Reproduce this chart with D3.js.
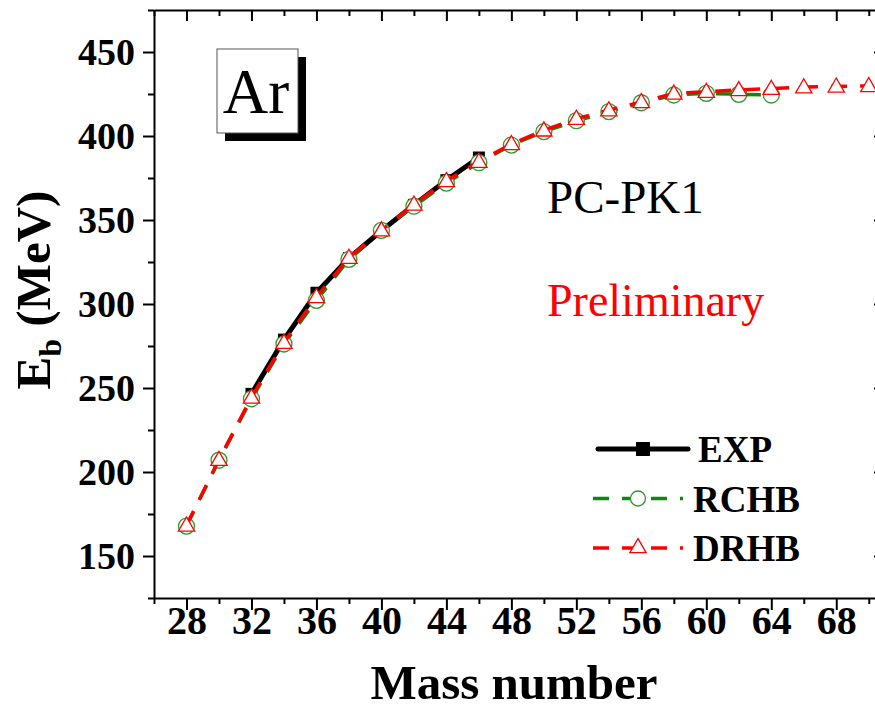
<!DOCTYPE html>
<html>
<head>
<meta charset="utf-8">
<script src="https://cdn.jsdelivr.net/npm/d3@7/dist/d3.min.js"></script>
<style>
	body { margin:0; background:#fff; }
	#graph { width:875px; height:711px; }
	text { font-family:"Liberation Serif","Times New Roman",serif; }
</style>
</head>
<body>
<div id="graph"></div>
<script>
// values
var massExp = [32, 34, 36, 38, 40, 42, 44, 46]
var ebExp = [246.5, 278.8, 306.7, 327.3, 343.6, 359.0, 373.7, 387.2]

var massRchb = [28, 30, 32, 34, 36, 38, 40, 42, 44, 46, 48, 50, 52, 54, 56, 58, 60, 62, 64]
var ebRchb = [167.8, 207.0, 243.6, 276.2, 302.2, 326.6, 343.8, 358.2, 372.0, 384.1, 394.6, 402.6, 409.1, 414.5, 419.8, 424.4, 425.4, 424.8, 424.4]

var massDrhb = [28, 30, 32, 34, 36, 38, 40, 42, 44, 46, 48, 50, 52, 54, 56, 58, 60, 62, 64, 66, 68, 70]
var ebDrhb = [168.2, 207.3, 244.4, 277.0, 304.2, 327.6, 343.9, 359.3, 373.3, 384.7, 395.3, 403.4, 410.3, 415.4, 420.3, 425.3, 426.4, 427.4, 428.2, 429.1, 429.5, 429.8]

var xTicks = d3.range(26, 72, 2)
var yTicks = d3.range(125, 476, 25)
var legendLabels = ["EXP", "RCHB", "DRHB"]

!(function(){
"use strict"
var width = 875, height = 711
var margin = {top:10, left:154, bottom:113, right:-10}
var chartWidth = width - margin.left - margin.right
var chartHeight = height - margin.top - margin.bottom

var svg = d3.select("#graph").append("svg")
	.attr("width", width).attr("height", height)
var chartLayer = svg.append("g")
	.attr("transform", "translate(" + [margin.left, margin.top] + ")")

var x = d3.scaleLinear().domain([26, 71]).range([0, chartWidth])
var y = d3.scaleLinear().domain([125, 475]).range([chartHeight, 0])

var isMajorX = function(v){ return (v - 28) % 4 === 0 }
var isMajorY = function(v){ return v % 50 === 0 }

// axes
var bottom = chartLayer.append("g")
	.attr("transform", "translate(0," + chartHeight + ")")
	.call(d3.axisBottom(x).tickValues(xTicks).tickSizeOuter(0)
		.tickFormat(function(d){ return isMajorX(d) ? d : "" }))
bottom.selectAll(".tick line").attr("y2", function(d){ return isMajorX(d) ? 12 : 6 })
bottom.selectAll(".tick text").attr("y", 36).attr("dy", 0)
	.style("font-size", "40px").style("font-weight", "bold")

var top = chartLayer.append("g")
	.call(d3.axisTop(x).tickValues(xTicks).tickSizeOuter(0).tickFormat(""))
top.selectAll(".tick line").attr("y2", function(d){ return isMajorX(d) ? 11 : 6 })

var left = chartLayer.append("g")
	.call(d3.axisLeft(y).tickValues(yTicks).tickSizeOuter(0)
		.tickFormat(function(d){ return isMajorY(d) ? d : "" }))
left.selectAll(".tick line").attr("x2", function(d){ return isMajorY(d) ? -11 : -6 })
left.selectAll(".tick text").attr("x", -19).attr("dy", 12)
	.style("font-size", "38px").style("font-weight", "bold")

var right = chartLayer.append("g")
	.attr("transform", "translate(" + chartWidth + ",0)")
	.call(d3.axisRight(y).tickValues(yTicks).tickSizeOuter(0).tickFormat(""))
right.selectAll(".tick line").attr("x2", function(d){ return isMajorY(d) ? -11 : -6 })

chartLayer.selectAll(".domain").attr("stroke", "#000").attr("stroke-width", 2)
chartLayer.selectAll(".tick line").attr("stroke", "#000").attr("stroke-width", 2)
chartLayer.selectAll(".tick text").attr("fill", "#000")
	.style("font-family", "'Liberation Serif','Times New Roman',serif")

// axis titles
svg.append("text")
	.attr("x", 514).attr("y", 699)
	.attr("text-anchor", "middle")
	.style("font-size", "49px").style("font-weight", "bold")
	.text("Mass number")
var yTitle = svg.append("text")
	.attr("transform", "translate(50,290) rotate(-90)")
	.attr("text-anchor", "middle")
	.style("font-size", "49px").style("font-weight", "bold")
yTitle.append("tspan").text("E")
yTitle.append("tspan").attr("dy", 11).style("font-size", "32px").text("b")
yTitle.append("tspan").attr("dy", -11).text(" (MeV)")

// series
var lineOf = function(xs, ys){
	return d3.line().x(function(d){ return x(d) }).y(function(d, i){ return y(ys[i]) })(xs)
}
var tri = d3.symbol().type(d3.symbolTriangle).size(115)

chartLayer.append("path")
	.attr("d", lineOf(massExp, ebExp))
	.attr("fill", "none").attr("stroke", "#000").attr("stroke-width", 5)
chartLayer.append("g").selectAll("rect")
	.data(massExp).enter().append("rect")
	.attr("x", function(d){ return x(d) - 6 })
	.attr("y", function(d, i){ return y(ebExp[i]) - 6 })
	.attr("width", 12).attr("height", 12).attr("fill", "#000")

chartLayer.append("path")
	.attr("d", lineOf(massRchb, ebRchb))
	.attr("fill", "none").attr("stroke", "#0a8a0a").attr("stroke-width", 3.5)
	.attr("stroke-dasharray", "16,13")
chartLayer.append("g").selectAll("circle")
	.data(massRchb).enter().append("circle")
	.attr("cx", function(d){ return x(d) })
	.attr("cy", function(d, i){ return y(ebRchb[i]) })
	.attr("r", 8).attr("fill", "#fff").attr("stroke", "#2e9a2e").attr("stroke-width", 1.3)

chartLayer.append("path")
	.attr("d", lineOf(massDrhb, ebDrhb))
	.attr("fill", "none").attr("stroke", "#ff0000").attr("stroke-width", 3.5)
	.attr("stroke-dasharray", "16,13")
chartLayer.append("g").selectAll("path")
	.data(massDrhb).enter().append("path")
	.attr("d", tri)
	.attr("transform", function(d, i){ return "translate(" + x(d) + "," + (y(ebDrhb[i]) + 1) + ")" })
	.attr("fill", "#fff").attr("stroke", "#ff0000").attr("stroke-width", 1.3)

// Ar label box with shadow
svg.append("rect").attr("x", 225).attr("y", 57).attr("width", 81).attr("height", 84).attr("fill", "#000")
svg.append("rect").attr("x", 217).attr("y", 49).attr("width", 81).attr("height", 84)
	.attr("fill", "#fff").attr("stroke", "#555").attr("stroke-width", 1)
svg.append("text").attr("x", 256).attr("y", 113).attr("text-anchor", "middle")
	.style("font-size", "63px").text("Ar")

svg.append("text").attr("x", 547).attr("y", 213)
	.style("font-size", "47px").text("PC-PK1")
svg.append("text").attr("x", 547).attr("y", 316).attr("fill", "#ff0000")
	.style("font-size", "46px").text("Preliminary")

// legend
var legend = svg.append("g").attr("transform", "translate(593,449)")
var rowGap = 49.5
legendLabels.forEach(function(label, i){
	var row = legend.append("g").attr("transform", "translate(0," + i * rowGap + ")")
	if (i === 0) {
		row.append("line").attr("x1", 5).attr("x2", 95).attr("stroke", "#000")
			.attr("stroke-width", 5).attr("stroke-linecap", "round")
		row.append("rect").attr("x", 43).attr("y", -7).attr("width", 14).attr("height", 14).attr("fill", "#000")
	} else {
		var col = i === 1 ? "#0a8a0a" : "#ff0000"
		row.append("line").attr("x1", 0).attr("x2", 90).attr("stroke", col)
			.attr("stroke-width", 3.5).attr("stroke-dasharray", "16,13")
		if (i === 1) {
			row.append("circle").attr("cx", 45).attr("r", 7.5)
				.attr("fill", "#fff").attr("stroke", "#2e9a2e").attr("stroke-width", 1.3)
		} else {
			row.append("path").attr("d", tri).attr("transform", "translate(45,0)")
				.attr("fill", "#fff").attr("stroke", "#ff0000").attr("stroke-width", 1.3)
		}
	}
	row.append("text").attr("x", i === 0 ? 105 : 100).attr("y", 13)
		.style("font-size", "37px").style("font-weight", "bold").text(label)
})
}());
</script>
</body>
</html>
